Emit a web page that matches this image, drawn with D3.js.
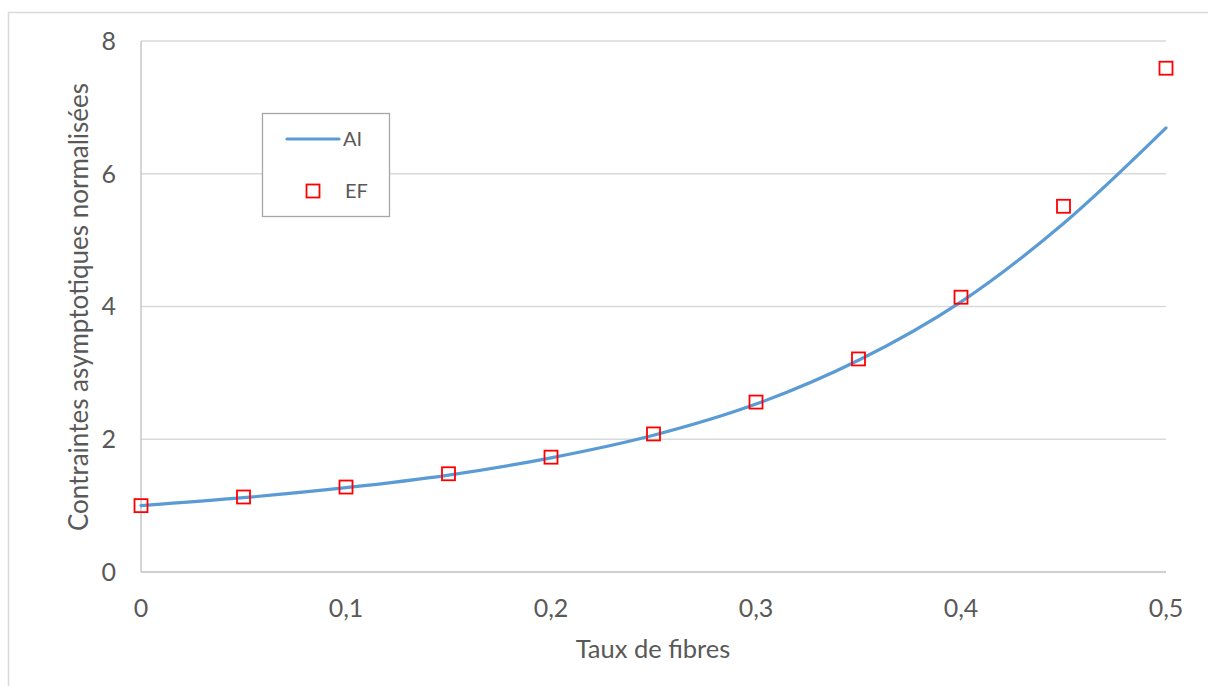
<!DOCTYPE html>
<html><head><meta charset="utf-8">
<script src="https://cdn.jsdelivr.net/npm/d3@7"></script>
<style>body{margin:0;background:#fff}svg{display:block}text{font-family:Lato,"Open Sans",sans-serif;fill:#595959}</style>
</head><body><svg id="c" width="1208" height="686"></svg>
<script>
const xValues = [0, 0.05, 0.1, 0.15, 0.2, 0.25, 0.3, 0.35, 0.4, 0.45, 0.5];
const aiValues = [1.0, 1.12, 1.27, 1.46, 1.72, 2.06, 2.53, 3.19, 4.07, 5.25, 6.69];
const efValues = [1.0, 1.13, 1.28, 1.48, 1.73, 2.08, 2.56, 3.21, 4.14, 5.51, 7.59];
const xTicks = [0, 0.1, 0.2, 0.3, 0.4, 0.5];
const yTicks = [0, 2, 4, 6, 8];
const seriesNames = ["AI", "EF"];

const svg = d3.select("#c");
const x = d3.scaleLinear().domain([0, 0.5]).range([141, 1166]);
const y = d3.scaleLinear().domain([0, 8]).range([572, 41]);
const fmt = d => String(d).replace(".", ",");

svg.append("rect").attr("x", 8.5).attr("y", 12.5).attr("width", 1220).attr("height", 700)
  .attr("fill", "none").attr("stroke", "#d9d9d9").attr("stroke-width", 1.5);

// gridlines
svg.append("g").selectAll("line").data(yTicks.filter(d => d > 0)).join("line")
  .attr("x1", x(0)).attr("x2", x(0.5)).attr("y1", d => y(d)).attr("y2", d => y(d))
  .attr("stroke", "#d9d9d9").attr("stroke-width", 1.3);

// axes lines
svg.append("line").attr("x1", x(0)).attr("x2", x(0)).attr("y1", y(0)).attr("y2", y(8))
  .attr("stroke", "#bfbfbf").attr("stroke-width", 1.3);
svg.append("line").attr("x1", x(0)).attr("x2", x(0.5)).attr("y1", y(0)).attr("y2", y(0))
  .attr("stroke", "#bfbfbf").attr("stroke-width", 1.3);

// tick labels
svg.append("g").selectAll("text").data(yTicks).join("text")
  .attr("x", 116).attr("y", d => y(d)).attr("dy", "0.35em").attr("text-anchor", "end")
  .attr("font-size", 25).text(fmt);
svg.append("g").selectAll("text").data(xTicks).join("text")
  .attr("x", d => x(d)).attr("y", 608).attr("dy", "0.35em").attr("text-anchor", "middle")
  .attr("font-size", 25).text(fmt);

// axis titles
svg.append("text").attr("x", 653).attr("y", 649).attr("dy", "0.35em").attr("text-anchor", "middle")
  .attr("font-size", 25.5).text("Taux de fibres");
svg.append("text").attr("transform", "translate(79,307) rotate(-90)").attr("dy", "0.35em")
  .attr("text-anchor", "middle").attr("font-size", 26).text("Contraintes asymptotiques normalisées");

// AI curve
const line = d3.line().x((d, i) => x(xValues[i])).y(d => y(d)).curve(d3.curveCatmullRom.alpha(0.5));
svg.append("path").datum(aiValues).attr("d", line).attr("fill", "none")
  .attr("stroke", "#5b9bd5").attr("stroke-width", 3.2).attr("stroke-linecap", "round");

// EF markers
const ms = 13;
svg.append("g").selectAll("rect").data(efValues).join("rect")
  .attr("x", (d, i) => x(xValues[i]) - ms / 2).attr("y", d => y(d) - ms / 2)
  .attr("width", ms).attr("height", ms).attr("fill", "none").attr("stroke", "#ff0000").attr("stroke-width", 1.8);

// legend
const lg = svg.append("g");
lg.append("rect").attr("x", 262.5).attr("y", 113.5).attr("width", 127).attr("height", 103)
  .attr("fill", "#fff").attr("stroke", "#a6a6a6").attr("stroke-width", 1.3);
lg.append("line").attr("x1", 287).attr("x2", 339).attr("y1", 139).attr("y2", 139)
  .attr("stroke", "#5b9bd5").attr("stroke-width", 3.2).attr("stroke-linecap", "round");
lg.append("text").attr("x", 343).attr("y", 139).attr("dy", "0.35em").attr("font-size", 20).text(seriesNames[0]);
lg.append("rect").attr("x", 313 - ms / 2).attr("y", 191 - ms / 2).attr("width", ms).attr("height", ms)
  .attr("fill", "none").attr("stroke", "#ff0000").attr("stroke-width", 1.8);
lg.append("text").attr("x", 345).attr("y", 191).attr("dy", "0.35em").attr("font-size", 20).text(seriesNames[1]);
</script></body></html>
